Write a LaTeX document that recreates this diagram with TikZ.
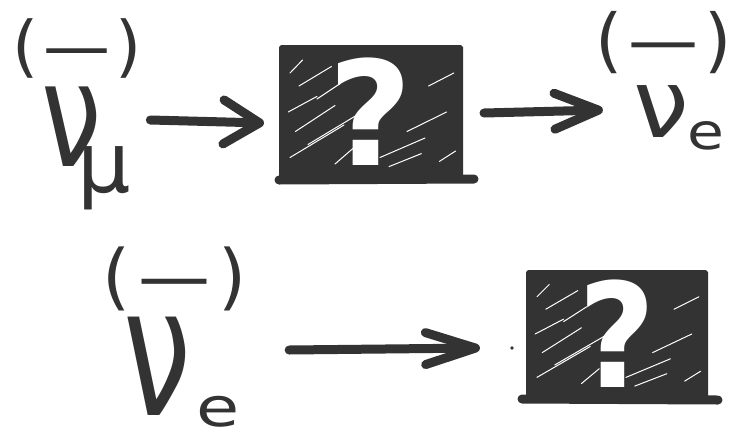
\documentclass[tikz,border=0pt]{standalone}
\usepackage{fontspec}
\setmainfont{DejaVu Sans}
\usetikzlibrary{arrows.meta,calc}
\definecolor{ink}{HTML}{333333}
\tikzset{
  glyph/.style={inner sep=0pt, text=ink, font=\fontsize{#1}{#1}\selectfont},
  arr/.style={draw=ink, line width=9pt, line cap=round, line join=round},
  tipa/.style 2 args={-{Straight Barb[length=#1,width=#2,line cap=round,line join=round]}},
  smudge/.style={draw=ink, line width=9pt, line cap=round},
  qbox/.style={fill=ink, draw=ink, line width=4pt, rounded corners=1pt, text=white,
    inner sep=0pt, font=\bfseries\fontsize{145}{145}\selectfont,
    path picture={
      \foreach \xa/\ya/\xb/\yb in {0.08/0.35/0.30/0.55, 0.05/0.15/0.35/0.40, 0.10/0.70/0.28/0.85,
          0.15/0.25/0.45/0.50, 0.55/0.15/0.80/0.30, 0.70/0.35/0.92/0.50, 0.04/0.50/0.20/0.62,
          0.60/0.08/0.78/0.18, 0.82/0.70/0.96/0.80, 0.30/0.10/0.40/0.22, 0.05/0.80/0.12/0.90,
          0.88/0.12/0.97/0.20, 0.20/0.60/0.33/0.72}
        \draw[white, line width=1pt, line cap=round]
          ($(path picture bounding box.south west)!\xa!(path picture bounding box.south east)!\ya!($(path picture bounding box.north west)!\xa!(path picture bounding box.north east)$)$)
          -- ($(path picture bounding box.south west)!\xb!(path picture bounding box.south east)!\yb!($(path picture bounding box.north west)!\xb!(path picture bounding box.north east)$)$);
    }},
}
\begin{document}
\begin{tikzpicture}[x=1pt,y=-1pt]
\useasboundingbox (0,0) rectangle (736,429);
% top left
\node[glyph=67] (bar1) at (77,48) {(\hspace{5pt}—\hspace{5pt})};
\node[glyph=130] (nu1) at (72,127) {\scalebox{0.83}[1.12]{ν}};
\node[glyph=84] (sub1) at (104,178) {μ};
% box 1
\node[qbox, minimum width=180pt, minimum height=130pt] (box1) at (371,112) {\raisebox{-6pt}{?}};
\draw[smudge] ($(box1.south west)+(0,1)$) -- ($(box1.south east)+(11,0)$);
% top right
\node[glyph=70] (bar2) at (664,43) {(\hspace{6pt}—\hspace{6pt})};
\node[glyph=95] (nu2) at (661,112) {\scalebox{1.05}[1.0]{ν}};
\node[glyph=50] (sub2) at (706,136) {\scalebox{1.2}[1]{e}};
% bottom left
\node[glyph=72] (bar3) at (175,279) {(\hspace{8pt}—\hspace{8pt})};
\node[glyph=150] (nu3) at (157,366) {\scalebox{0.81}[1.2]{ν}};
\node[glyph=54] (sub3) at (218,412) {\scalebox{1.3}[1]{e}};
% box 2
\node[qbox, minimum width=178pt, minimum height=124pt] (box2) at (617,334) {\raisebox{-5pt}{\scalebox{0.92}[1]{?}}};
\draw[smudge] ($(box2.south west)+(-4,1)$) -- ($(box2.south east)+(10,2)$);
\fill[ink] (512,348) circle (1.8pt);
% arrows
\draw[arr, tipa={36pt}{44pt}] ($(nu1.east)+(48,-7)$) -- ($(box1.west)+(-15,11)$);
\draw[arr, tipa={44pt}{36pt}] ($(box1.east)+(21,1)$) -- ($(nu2.west)+(-30,-2)$);
\draw[arr, tipa={50pt}{32pt}] ($(nu3.east)+(98,-16)$) -- ($(box2.west)+(-46,14)$);
\end{tikzpicture}
\end{document}
